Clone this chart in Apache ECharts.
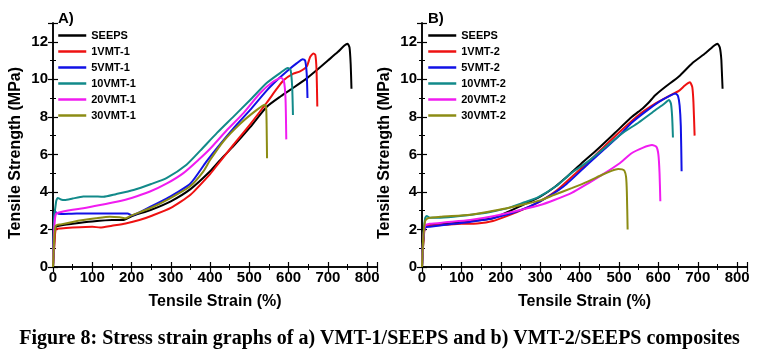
<!DOCTYPE html>
<html>
<head>
    <meta charset="utf-8">
    <title>Stress strain graphs</title>
    <script src="https://cdn.jsdelivr.net/npm/echarts@6/dist/echarts.min.js"></script>
    <style>
        body { margin: 0; padding: 0; background: #fff; }
        #main { width: 759px; height: 352px; }
    </style>
</head>
<body>
<div id="main"></div>
<script type="text/javascript">
    // 曲线数据 [应变 %, 应力 MPa]
    const namesA = ['SEEPS', '1VMT-1', '5VMT-1', '10VMT-1', '20VMT-1', '30VMT-1'];
    const namesB = ['SEEPS', '1VMT-2', '5VMT-2', '10VMT-2', '20VMT-2', '30VMT-2'];
    const colors = ['#000000', '#ee1111', '#1111e6', '#128a8a', '#f01cf0', '#8c8c14'];
    const xTicks = [0, 100, 200, 300, 400, 500, 600, 700, 800];
    const yTicks = [0, 2, 4, 6, 8, 10, 12];

    // ---- A) VMT-1 ----
    const seepsA = [[0,0],[3,1.2],[6,2.1],[15,2.2],[50,2.3],[100,2.42],[150,2.5],[180,2.5],[200,2.7],[250,3.05],[300,3.5],[350,4.15],[400,5.1],[430,5.8],[460,6.45],[502,7.45],[545,8.55],[580,9.1],[612,9.55],[646,10.05],[672,10.5],[700,11.0],[725,11.45],[742,11.8],[750,11.9],[755,11.7],[758,10.8],[760,9.5]];
    const vmt1A = [[0,0],[3,1.0],[7,2.0],[20,2.05],[50,2.1],[100,2.15],[120,2.1],[150,2.2],[185,2.32],[220,2.5],[250,2.72],[300,3.15],[350,3.85],[400,4.95],[417,5.4],[459,6.5],[502,7.6],[544,8.75],[570,9.5],[587,9.95],[612,10.3],[629,10.42],[646,10.68],[655,11.2],[663,11.38],[668,11.3],[671,10.5],[673,8.55]];
    const vmt5A = [[0,0],[2,2.0],[4,3.0],[8,2.9],[20,2.82],[60,2.85],[120,2.85],[160,2.85],[190,2.85],[200,2.75],[247,3.2],[298,3.75],[350,4.45],[390,5.6],[420,6.4],[460,7.4],[502,8.37],[544,9.4],[570,9.95],[595,10.42],[621,10.86],[636,11.07],[642,11.0],[646,10.3],[648,9.0]];
    const vmt10A = [[0,0],[3,2.5],[8,3.5],[12,3.68],[20,3.6],[30,3.57],[50,3.65],[77,3.75],[100,3.76],[128,3.74],[160,3.88],[205,4.1],[250,4.42],[290,4.75],[340,5.45],[375,6.2],[417,7.13],[459,8.0],[502,8.9],[544,9.8],[578,10.33],[598,10.6],[605,10.5],[609,9.6],[611,8.1]];
    const vmt20A = [[0,0],[3,2.0],[7,2.8],[15,2.9],[50,3.05],[77,3.13],[120,3.3],[162,3.48],[200,3.68],[247,4.02],[290,4.45],[332,5.0],[370,5.7],[400,6.3],[443,7.3],[485,8.2],[527,9.26],[561,9.88],[581,10.08],[588,9.9],[592,9.0],[594,6.8]];
    const vmt30A = [[0,0],[3,1.5],[7,2.2],[20,2.27],[50,2.4],[77,2.5],[110,2.6],[145,2.68],[170,2.65],[185,2.6],[200,2.75],[247,3.13],[298,3.66],[349,4.3],[383,5.1],[400,5.7],[434,6.7],[476,7.62],[519,8.37],[540,8.64],[543,8.4],[544,7.5],[545,5.8]];

    // ---- B) VMT-2 ----
    const seepsB = [[0,0],[3,1.2],[7,2.15],[20,2.22],[60,2.3],[122,2.45],[180,2.6],[250,3.25],[300,3.75],[336,4.25],[370,4.85],[404,5.5],[447,6.3],[490,7.15],[533,8.0],[560,8.45],[575,8.75],[592,9.15],[618,9.6],[652,10.15],[686,10.86],[720,11.4],[742,11.8],[750,11.9],[756,11.7],[760,11.0],[763,9.5]];
    const vmt1B = [[0,0],[3,1.2],[8,2.15],[20,2.2],[60,2.25],[100,2.3],[140,2.32],[180,2.45],[220,2.75],[260,3.1],[300,3.5],[340,4.05],[380,4.8],[420,5.55],[464,6.45],[507,7.3],[550,8.1],[592,8.7],[635,9.2],[652,9.38],[668,9.68],[680,9.84],[686,9.6],[689,8.8],[692,7.0]];
    const vmt5B = [[0,0],[3,1.5],[8,2.1],[20,2.15],[80,2.3],[122,2.4],[170,2.55],[240,2.95],[300,3.5],[360,4.3],[422,5.5],[464,6.3],[507,7.13],[533,7.7],[575,8.4],[610,8.9],[644,9.25],[650,9.1],[654,8.6],[657,7.5],[659,5.1]];
    const vmt10B = [[0,0],[3,1.5],[8,2.6],[12,2.72],[20,2.62],[40,2.62],[80,2.68],[130,2.8],[170,2.92],[220,3.15],[260,3.45],[293,3.7],[340,4.3],[379,5.0],[420,5.6],[464,6.35],[507,7.1],[550,7.7],[592,8.35],[615,8.7],[627,8.9],[632,8.7],[635,8.0],[637,6.9]];
    const vmt20B = [[0,0],[3,1.5],[8,2.2],[20,2.3],[60,2.38],[122,2.5],[180,2.7],[250,3.04],[300,3.3],[336,3.57],[380,3.95],[422,4.46],[464,5.0],[500,5.5],[532,6.06],[560,6.35],[584,6.5],[595,6.4],[600,6.0],[603,5.0],[605,3.5]];
    const vmt30B = [[0,0],[3,1.5],[8,2.45],[15,2.6],[50,2.68],[122,2.78],[208,3.1],[250,3.3],[300,3.55],[336,3.85],[380,4.2],[422,4.56],[456,4.9],[481,5.12],[498,5.22],[508,5.2],[514,5.12],[518,4.8],[520,4.0],[522,2.0]];

    const dataA = [seepsA, vmt1A, vmt5A, vmt10A, vmt20A, vmt30A];
    const dataB = [seepsB, vmt1B, vmt5B, vmt10B, vmt20B, vmt30B];

    const font = 'Liberation Sans, Arial, sans-serif';

    function xAxisFor(grid, pos) {
        let bottom = pos === 'bottom';
        return {
            gridIndex: grid, type: 'value', position: pos,
            min: 0, max: 825, interval: 100,
            name: bottom ? 'Tensile Strain (%)' : '',
            nameLocation: 'middle', nameGap: 27,
            nameTextStyle: { fontFamily: font, fontWeight: 'bold', fontSize: 16, color: '#000' },
            axisLine: { show: true, lineStyle: { color: '#000', width: 1.5 } },
            axisTick: { inside: true, length: 5, lineStyle: { color: '#000', width: 1.2 } },
            minorTick: { show: true, splitNumber: 2, length: 3, lineStyle: { color: '#000', width: 1 } },
            axisLabel: {
                show: bottom, margin: 3, showMaxLabel: false,
                fontFamily: font, fontWeight: 'bold', fontSize: 15, color: '#000',
                formatter: v => xTicks.includes(v) ? String(v) : ''
            },
            splitLine: { show: false }
        };
    }

    function yAxisFor(grid, pos) {
        let left = pos === 'left';
        return {
            gridIndex: grid, type: 'value', position: pos,
            min: 0, max: 13, interval: 2,
            name: left ? 'Tensile Strength (MPa)' : '',
            nameLocation: 'middle', nameGap: 29,
            nameTextStyle: { fontFamily: font, fontWeight: 'bold', fontSize: 16, color: '#000', padding: [0, 16, 0, 0] },
            axisLine: { show: true, lineStyle: { color: '#000', width: 1.5 } },
            axisTick: { inside: true, length: 5, lineStyle: { color: '#000', width: 1.2 } },
            minorTick: { show: true, splitNumber: 2, length: 3, lineStyle: { color: '#000', width: 1 } },
            axisLabel: {
                show: left, margin: 5, showMaxLabel: false,
                fontFamily: font, fontWeight: 'bold', fontSize: 15, color: '#000',
                formatter: v => yTicks.includes(v) ? String(v) : ''
            },
            splitLine: { show: false }
        };
    }

    let series = [];
    namesA.forEach((n, i) => {
        series.push({
            name: n, type: 'line', xAxisIndex: 0, yAxisIndex: 0,
            data: dataA[i], symbol: 'none', smooth: 0.2,
            lineStyle: { width: 2, color: colors[i] }, color: colors[i]
        });
    });
    namesB.forEach((n, i) => {
        series.push({
            name: n, type: 'line', xAxisIndex: 1, yAxisIndex: 1,
            data: dataB[i], symbol: 'none', smooth: 0.2,
            lineStyle: { width: 2, color: colors[i] }, color: colors[i]
        });
    });

    function legendFor(left, names) {
        return {
            left: left, top: 25, orient: 'vertical',
            data: names, itemWidth: 28, itemHeight: 10, itemGap: 5,
            itemStyle: { opacity: 0 },
            lineStyle: { width: 2.5 },
            textStyle: { fontFamily: font, fontWeight: 'bold', fontSize: 11, color: '#000' },
            selectedMode: false
        };
    }

    let chart = echarts.init(document.getElementById('main'));
    let option = {
        animation: false,
        backgroundColor: '#fff',
        title: [
            { text: 'A)', left: 53, top: 6, textStyle: { fontFamily: font, fontWeight: 'bold', fontSize: 15, color: '#000' } },
            { text: 'B)', left: 423, top: 6, textStyle: { fontFamily: font, fontWeight: 'bold', fontSize: 15, color: '#000' } },
            {
                text: 'Figure 8: Stress strain graphs of a) VMT-1/SEEPS and b) VMT-2/SEEPS composites',
                left: 'center', top: 324,
                textStyle: { fontFamily: 'Liberation Serif, Times New Roman, serif', fontWeight: 'bold', fontSize: 20, color: '#000' }
            }
        ],
        legend: [legendFor(52, namesA), legendFor(422, namesB)],
        grid: [
            { left: 53, top: 23, width: 324, height: 244 },
            { left: 422, top: 23, width: 325, height: 244 }
        ],
        xAxis: [xAxisFor(0, 'bottom'), xAxisFor(1, 'bottom'), xAxisFor(0, 'top'), xAxisFor(1, 'top')],
        yAxis: [yAxisFor(0, 'left'), yAxisFor(1, 'left'), yAxisFor(0, 'right'), yAxisFor(1, 'right')],
        series: series
    };
    chart.setOption(option);
</script>
</body>
</html>
